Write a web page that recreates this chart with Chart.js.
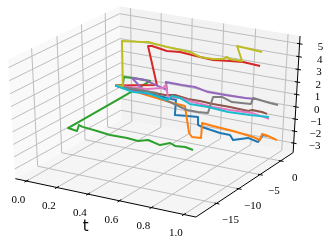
<!DOCTYPE html>
<html>
<head>
<meta charset="utf-8">
<style>
  html, body { margin: 0; padding: 0; background: #fff; }
  canvas { display: block; }
</style>
<script src="https://cdn.jsdelivr.net/npm/chart.js@4/dist/chart.umd.min.js"></script>
</head>
<body>
<canvas id="chart" width="333" height="241"></canvas>
<script>
// Axis limits and ticks
const tLim = [-0.073, 1.073];
const yLim = [-19.5, 3.1];
const zLim = [-3.8, 5.6];
const tTicks = [0, 0.2, 0.4, 0.6, 0.8, 1];
const yTicks = [-15, -10, -5, 0];
const zTicks = [-3, -2, -1, 0, 1, 2, 3, 4, 5];
const tTickLabels = ["0.0", "0.2", "0.4", "0.6", "0.8", "1.0"];
const yTickLabels = ["\u221215", "\u221210", "\u22125", "0"];
const zTickLabels = ["\u22123", "\u22122", "\u22121", "0", "1", "2", "3", "4", "5"];

// Series values
const blueT = [0, 0.4, 0.41, 0.5, 0.56, 0.57, 0.6, 0.71, 0.78, 0.8, 0.9, 0.96, 0.98, 1];
const blueY = [-0.5, -0.39, -0.95, -1.11, -0.91, -1.25, -1.39, -1.13, -1.34, -1.36, -1.55, -1.38, -1.04, -0.56];
const blueZ = [0, -0.3, -1.4, -1.24, -1.22, -1.78, -1.85, -2.13, -2.08, -2.44, -1.98, -2.2, -1.65, -1.79];

const orangeT = [0, 0.36, 0.44, 0.45, 0.47, 0.53, 0.535, 0.61, 0.74, 0.87, 0.91, 0.92, 0.96, 1];
const orangeY = [-0.5, 0.33, 0.28, 0.98, 0.96, 0.96, 0.97, 0.84, 0.87, 0.82, 1.02, 1.1, 1.03, 1.75];
const orangeZ = [0, -0.79, -0.84, -3.23, -3.52, -3.45, -2.18, -2.22, -2.32, -2.49, -2.69, -2.18, -2.23, -2.63];

const greenT = [0, 0.05, 0.055, 0.1, 0.2, 0.2, 0.24, 0.25, 0.27, 0.36, 0.45, 0.56, 0.64, 0.7, 0.79, 0.85, 0.89, 0.95, 1];
const greenY = [-0.5, -0.45, -0.35, 0.16, 0.61, -16.84, -16.31, -16.19, -16.09, -16.07, -16.32, -16.44, -16.84, -16.77, -17.35, -17.31, -17.66, -17.64, -17.73];
const greenZ = [0, 0.15, 0.79, 0.71, 0.6, 0.41, 0.16, 0.63, 0.51, 0.4, 0.36, 0.42, 0.48, 0.69, 0.65, 0.95, 0.9, 0.97, 0.88];

const redT = [0, 0.3, 0.31, 0.335, 0.38, 0.44, 0.53, 0.67, 0.76, 0.87, 0.93, 1];
const redY = [-0.5, -1.26, -3.53, -3.52, -3.74, -3.87, -4.14, -4.67, -5.04, -5.28, -4.56, -3.26];
const redZ = [0, 0.88, 4.45, 4.5, 4.48, 4.4, 4.57, 4.58, 4.62, 4.83, 4.74, 4.34];

const purpleT = [0, 0.17, 0.2, 0.2, 0.28, 0.37, 0.42, 0.425, 0.53, 0.62, 0.7, 0.81, 0.93, 1];
const purpleY = [-0.5, 0.03, -0.08, -3.36, -3.21, -2.98, -3.12, -3.54, -3.62, -3.9, -3.79, -3.92, -3.79, -3.88];
const purpleZ = [0, -0.34, -0.33, 1.63, 1.62, 1.22, 1.12, 1.86, 1.87, 1.97, 1.73, 1.78, 1.79, 1.9];

const brownT = [0, 0.33, 0.4, 0.48, 0.56, 0.64, 0.75, 0.86, 0.88, 0.94, 1];
const brownY = [-0.5, -0.47, -0.63, -0.47, -0.52, -0.39, -0.43, -0.27, -0.05, 0.04, -1.06];
const brownZ = [0, -0.03, 0.16, -0.01, 0.02, -0.07, -0.04, -0.14, -0.06, -0.1, 0.12];

const pinkT = [0, 0.2, 0.3, 0.32, 0.33, 0.42, 0.5, 0.62, 0.73, 0.87, 1];
const pinkY = [-0.5, -0.07, 0.1, 0.1, 0.21, -0.17, 0.01, 0.35, 0.37, 0.33, -0.51];
const pinkZ = [0, 0.08, 0.36, 0.65, -0.34, -0.13, -0.31, -0.51, -0.5, -0.4, -0.4];

const grayT = [0, 0.27, 0.3, 0.37, 0.48, 0.55, 0.62, 0.63, 0.69, 0.75, 0.87, 0.88, 0.97, 1];
const grayY = [-0.5, -0.24, -0.57, -0.71, -0.67, -0.6, -0.8, -0.04, -0.17, 0.01, 0, 0.07, 0.73, 1.55];
const grayZ = [0, -0.05, -0.33, -0.47, -0.88, -0.89, -0.77, 0.41, 0.58, 0.27, 0.4, 0.89, 0.56, 0.3];

const oliveT = [0, 0.05, 0.055, 0.14, 0.18, 0.32, 0.49, 0.56, 0.66, 0.73, 0.755, 0.77, 0.86, 0.865, 1];
const oliveY = [-0.5, -0.45, -0.67, 0.88, 0.85, 0.3, -0.49, -0.7, -1.39, -1.63, -1.66, -1.74, -2.13, -3.58, -2.94];
const oliveZ = [0, 0.06, 3.77, 3.58, 3.67, 3.67, 3.79, 3.59, 3.78, 3.97, 4.19, 4.08, 4.2, 5.63, 5.35];

const cyanT = [0, 0.13, 0.22, 0.35, 0.36, 0.42, 0.48, 0.6, 0.73, 0.87, 1];
const cyanY = [-0.5, -0.86, -0.77, -0.68, 0.09, -0.17, 0, -0.08, -0.09, -0.13, -0.54];
const cyanZ = [0, -0.17, -0.06, -0.36, -0.16, -0.13, -0.52, -0.47, -0.57, -0.47, -0.24];

const seriesList = [
  [blueT, blueY, blueZ, "#1f77b4"],
  [orangeT, orangeY, orangeZ, "#ff7f0e"],
  [greenT, greenY, greenZ, "#2ca02c"],
  [redT, redY, redZ, "#d62728"],
  [purpleT, purpleY, purpleZ, "#9467bd"],
  [brownT, brownY, brownZ, "#8c564b"],
  [pinkT, pinkY, pinkZ, "#e377c2"],
  [grayT, grayY, grayZ, "#7f7f7f"],
  [oliveT, oliveY, oliveZ, "#bcbd22"],
  [cyanT, cyanY, cyanZ, "#17becf"]
];

// Same camera as a default 3D axes: elev 30, azim -60, distance 10
function project(t, y, z) {
  const dx = (t - tLim[0]) / (tLim[1] - tLim[0]) - 0.5;
  const dy = (y - yLim[0]) / (yLim[1] - yLim[0]) - 0.5;
  const dz = (z - zLim[0]) / (zLim[1] - zLim[0]) - 0.5;
  const a = 0.866 * dx + 0.5 * dy;
  const b = -0.25 * dx + 0.433 * dy + 0.866 * dz;
  const c = 0.433 * dx - 0.75 * dy + 0.5 * dz;
  const s = 1 / (1 - c / 10);
  return { x: a * s, y: b * s };
}

function segment(points, color, width) {
  return {
    data: points.map(p => project(p[0], p[1], p[2])),
    showLine: true,
    fill: false,
    borderColor: color,
    borderWidth: width,
    pointRadius: 0,
    borderJoinStyle: "round",
    borderCapStyle: "butt"
  };
}

function pane(points, color) {
  const ds = segment(points.concat([points[0]]), color, 0);
  ds.fill = "shape";
  ds.backgroundColor = color;
  return ds;
}

const t0 = tLim[0], t1 = tLim[1], y0 = yLim[0], y1 = yLim[1], z0 = zLim[0], z1 = zLim[1];
const gridColor = "#bdbdbd";
const drawn = [];

drawn.push(pane([[t0, y0, z0], [t0, y1, z0], [t0, y1, z1], [t0, y0, z1]], "#f9f9f9"));
drawn.push(pane([[t0, y1, z0], [t1, y1, z0], [t1, y1, z1], [t0, y1, z1]], "#f2f2f2"));
drawn.push(pane([[t0, y0, z0], [t1, y0, z0], [t1, y1, z0], [t0, y1, z0]], "#f5f5f5"));

tTicks.forEach(t => drawn.push(segment([[t, y0, z0], [t, y1, z0], [t, y1, z1]], gridColor, 1)));
yTicks.forEach(y => drawn.push(segment([[t1, y, z0], [t0, y, z0], [t0, y, z1]], gridColor, 1)));
zTicks.forEach(z => drawn.push(segment([[t0, y0, z], [t0, y1, z], [t1, y1, z]], gridColor, 1)));

drawn.push(segment([[t0, y0, z0], [t1, y0, z0]], "#000", 1));
drawn.push(segment([[t1, y0, z0], [t1, y1, z0]], "#000", 1));
drawn.push(segment([[t1, y1, z0], [t1, y1, z1]], "#000", 1));

tTicks.forEach(t => drawn.push(segment([[t, y0 - 0.4, z0], [t, y0 + 0.4, z0]], "#000", 1)));
yTicks.forEach(y => drawn.push(segment([[t1 - 0.012, y, z0], [t1 + 0.018, y, z0]], "#000", 1)));
zTicks.forEach(z => drawn.push(segment([[t1 - 0.016, y1, z], [t1 + 0.018, y1, z]], "#000", 1)));

seriesList.forEach(s => {
  const pts = s[0].map((t, i) => [t, s[1][i], s[2][i]]);
  drawn.push(segment(pts, s[3], 2));
});

// Tick labels and the axis title
const labelPlugin = {
  id: "axisText",
  afterDraw(chart) {
    const ctx = chart.ctx;
    const sx = chart.scales.x, sy = chart.scales.y;
    const put = (p, text, ox, oy) => {
      const q = project(p[0], p[1], p[2]);
      ctx.fillText(text, sx.getPixelForValue(q.x) + ox, sy.getPixelForValue(q.y) + oy);
    };
    ctx.save();
    ctx.fillStyle = "#000";
    ctx.textAlign = "center";
    ctx.textBaseline = "middle";
    ctx.font = "11px 'Liberation Serif'";
    tTicks.forEach((t, i) => put([t, y0, z0], tTickLabels[i], -8, 19));
    yTicks.forEach((y, i) => put([t1, y, z0], yTickLabels[i], 14, 17));
    zTicks.forEach((z, i) => put([t1, y1, z], zTickLabels[i], 21, 3));
    ctx.font = "15px 'DejaVu Sans'";
    put([0.5, y0, z0], "t", -18, 30);
    ctx.restore();
  }
};

new Chart(document.getElementById("chart").getContext("2d"), {
  type: "scatter",
  data: { datasets: drawn.reverse() },
  options: {
    responsive: false,
    animation: false,
    layout: { padding: 0 },
    plugins: { legend: { display: false }, tooltip: { enabled: false } },
    scales: {
      x: { display: false, min: -0.7505, max: 0.8474 },
      y: { display: false, min: -0.978, max: 0.794 }
    }
  },
  plugins: [labelPlugin]
});
</script>
</body>
</html>
